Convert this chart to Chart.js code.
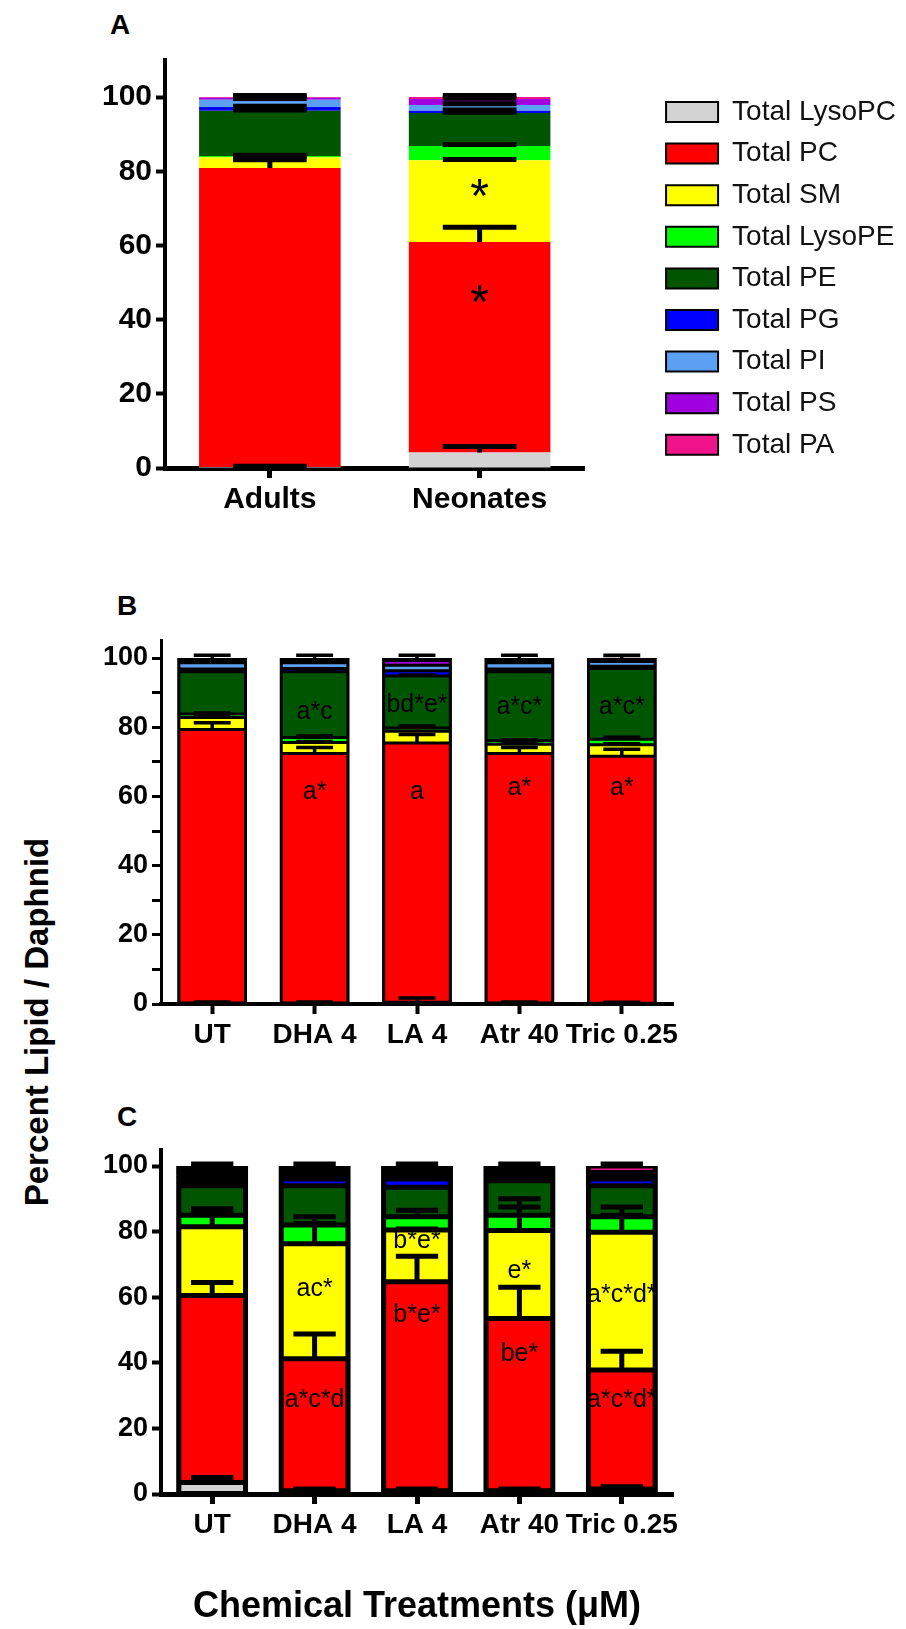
<!DOCTYPE html>
<html>
<head>
<meta charset="utf-8">
<script src="https://cdn.jsdelivr.net/npm/chart.js@4.4.1/dist/chart.umd.min.js"></script>
<style>
  body { margin: 0; background: #fff; }
  #page { position: relative; width: 906px; height: 1629px; overflow: hidden; font-family: 'Liberation Sans', Arial, sans-serif; }
  canvas { position: absolute; left: 0; }
  .letter { position: absolute; font-weight: bold; font-size: 28px; line-height: 28px; color: #000; }
  #ytitle { position: absolute; left: 37px; top: 1022px; transform: translate(-50%, -50%) rotate(-90deg); font-weight: bold; font-size: 33px; white-space: nowrap; color: #000; }
</style>
</head>
<body>
<div id="page">
  <div class="letter" style="left:110px;top:11px">A</div>
  <div class="letter" style="left:117px;top:592px">B</div>
  <div class="letter" style="left:117px;top:1103px">C</div>
  <div id="ytitle">Percent Lipid / Daphnid</div>
  <canvas id="chartA" width="906" height="557" style="top:0"></canvas>
  <canvas id="chartB" width="906" height="470" style="top:600px"></canvas>
  <canvas id="chartC" width="906" height="529" style="top:1100px"></canvas>
</div>
<script>
var FONT = "'Liberation Sans', Arial, sans-serif";

// stacking order, bottom to top
var seriesNames = ["Total LysoPC", "Total PC", "Total SM", "Total LysoPE", "Total PE", "Total PG", "Total PI", "Total PS", "Total PA"];
var seriesColors = ["#d3d3d3", "#ff0000", "#ffff00", "#00ff00", "#005500", "#0000ff", "#5ca0f2", "#a000e0", "#f0148c"];

// Panel A - rows follow seriesNames, columns follow groupsA
var groupsA = ["Adults", "Neonates"];
var valuesA = [
  [0.3, 4.2],
  [80.6, 56.7],
  [2.9, 22.1],
  [0.3, 3.8],
  [12.2, 8.9],
  [1.0, 0.6],
  [2.0, 1.6],
  [0.5, 1.6],
  [0.2, 0.5]
];
var errorsA = [
  [0.2, 1.6],
  [2.2, 4.0],
  [0.3, 0.2],
  [0.2, 0.4],
  [0.2, 0.2],
  [0.2, 0.2],
  [0.3, 0.3],
  [0.2, 0.2],
  [0.4, 0.4]
];
var notesA = [[1, 72.5, "*"], [1, 44, "*"]];

// Panels B and C
var groupsBC = ["UT", "DHA 4", "LA 4", "Atr 40", "Tric 0.25"];
var valuesB = [
  [0.3, 0.3, 0.5, 0.3, 0.2],
  [79.0, 72.1, 74.9, 72.1, 71.4],
  [3.5, 3.2, 3.4, 2.7, 3.3],
  [1.0, 1.4, 1.0, 1.0, 1.6],
  [12.2, 19.0, 15.0, 19.9, 20.5],
  [0.8, 1.0, 1.5, 0.8, 0.6],
  [1.8, 1.6, 1.6, 1.8, 1.4],
  [0.8, 0.8, 1.4, 0.8, 0.6],
  [0.6, 0.6, 0.7, 0.6, 0.4]
];
var errorsB = [
  [0.3, 0.3, 1.2, 0.3, 0.3],
  [2.0, 1.7, 2.5, 1.7, 2.0],
  [0.3, 0.3, 1.5, 0.3, 0.3],
  [0.3, 0.5, 0.5, 0.3, 0.6],
  [0.3, 0.3, 0.3, 0.3, 0.3],
  [0, 0, 0, 0, 0],
  [0, 0.6, 0, 0, 0.6],
  [0, 0, 0, 0, 0],
  [0.8, 0.8, 0.8, 0.8, 0.8]
];
var notesB = [
  [1, 84.4, "a*c"], [1, 61.3, "a*"],
  [2, 86.4, "bd*e*"], [2, 61.3, "a"],
  [3, 85.9, "a*c*"], [3, 62.3, "a*"],
  [4, 85.9, "a*c*"], [4, 62.3, "a*"]
];

var valuesC = [
  [3.5, 1.0, 1.0, 1.0, 1.5],
  [57.0, 40.2, 63.7, 52.5, 36.3],
  [21.0, 35.1, 15.8, 26.8, 42.0],
  [3.5, 5.7, 4.0, 4.7, 4.7],
  [9.0, 12.0, 9.0, 10.5, 9.5],
  [1.5, 2.0, 2.5, 1.2, 2.0],
  [1.5, 1.5, 1.5, 1.3, 1.2],
  [1.5, 1.3, 1.3, 1.2, 0.8],
  [1.5, 1.2, 1.2, 0.8, 2.0]
];
var errorsC = [
  [1.5, 0.5, 0.5, 0.5, 0.7],
  [4.0, 7.6, 7.8, 9.5, 5.7],
  [5.5, 8.2, 0.3, 9.7, 7.7],
  [0.5, 0.5, 2.0, 2.5, 0.5],
  [0, 0, 0, 0, 0],
  [0, 0, 0, 0, 0],
  [0, 0, 0, 0, 0],
  [0, 0, 0, 0, 0],
  [0.6, 0.6, 0.6, 0.6, 0.6]
];
var notesC = [
  [1, 62.5, "ac*"], [1, 28.5, "a*c*d"],
  [2, 77, "b*e*"], [2, 54.5, "b*e*"],
  [3, 68, "e*"], [3, 42.5, "be*"],
  [4, 60.5, "a*c*d*"], [4, 28.5, "a*c*d*"]
];

// black backing under each whole stack so thin segments read as solid outline
var stackBacking = {
  id: 'stackBacking',
  beforeDatasetsDraw: function(chart, args, opts) {
    if (!opts.on) return;
    var ctx = chart.ctx, y = chart.scales.y, sets = chart.data.datasets;
    ctx.save();
    ctx.fillStyle = '#000';
    chart.getDatasetMeta(0).data.forEach(function(bar, j) {
      var total = 0;
      sets.forEach(function(ds) { total += ds.data[j]; });
      var y0 = y.getPixelForValue(0), y1 = y.getPixelForValue(total);
      ctx.fillRect(bar.x - bar.width / 2, y1, bar.width, y0 - y1);
    });
    ctx.restore();
  }
};

// error bars: from top of each segment upward by its error
var errorBars = {
  id: 'errorBars',
  afterDatasetsDraw: function(chart, args, opts) {
    var ctx = chart.ctx, y = chart.scales.y, sets = chart.data.datasets;
    ctx.save();
    ctx.strokeStyle = '#000';
    ctx.lineWidth = opts.width;
    sets.forEach(function(ds, i) {
      chart.getDatasetMeta(i).data.forEach(function(bar, j) {
        var err = ds.errors[j];
        if (!err) return;
        var top = 0;
        for (var k = 0; k <= i; k++) top += sets[k].data[j];
        var y0 = y.getPixelForValue(top), y1 = y.getPixelForValue(top + err);
        var half = bar.width * opts.cap / 2;
        ctx.beginPath();
        ctx.moveTo(bar.x, y0);
        ctx.lineTo(bar.x, y1);
        ctx.moveTo(bar.x - half, y1);
        ctx.lineTo(bar.x + half, y1);
        ctx.stroke();
      });
    });
    ctx.restore();
  }
};

var notes = {
  id: 'notes',
  afterDatasetsDraw: function(chart, args, opts) {
    var ctx = chart.ctx, y = chart.scales.y, bars = chart.getDatasetMeta(0).data;
    ctx.save();
    ctx.fillStyle = '#000';
    ctx.font = opts.size + 'px ' + FONT;
    ctx.textAlign = 'center';
    ctx.textBaseline = 'middle';
    opts.items.forEach(function(n) {
      ctx.fillText(n[2], bars[n[0]].x, y.getPixelForValue(n[1]));
    });
    ctx.restore();
  }
};

// border: [side, topAndBottom]; small segments turn fully black like the original
function makeDatasets(values, errors, border, barPct) {
  return seriesNames.map(function(name, i) {
    return {
      label: name,
      data: values[i],
      errors: errors[i],
      backgroundColor: seriesColors[i],
      borderColor: '#000',
      borderWidth: { left: border[0], right: border[0], top: border[1], bottom: border[1] },
      borderSkipped: false,
      inflateAmount: border[0] ? 0 : 'auto',
      categoryPercentage: 1,
      barPercentage: barPct
    };
  });
}

function yAxis(max, fontSize, lineW, width) {
  return {
    stacked: true, min: 0, max: max,
    border: { display: true, color: '#000', width: lineW },
    grid: { drawOnChartArea: false, drawTicks: true, tickLength: 9, tickWidth: lineW, tickColor: '#000' },
    ticks: {
      stepSize: 10, includeBounds: false, padding: 4, color: '#000',
      font: { family: FONT, size: fontSize, weight: 'bold' },
      callback: function(v) {
        if (v % 10 !== 0) return null;
        if (v % 20 !== 0 || v > 100) return '';
        return String(v);
      }
    },
    afterFit: function(s) { s.width = width; }
  };
}

function xAxis(fontSize, lineW, height, title) {
  return {
    stacked: true,
    border: { display: true, color: '#000', width: lineW },
    grid: { offset: false, drawOnChartArea: false, drawTicks: true, tickLength: 10, tickWidth: lineW, tickColor: '#000' },
    ticks: { padding: 4, color: '#000', maxRotation: 0, autoSkip: false, font: { family: FONT, size: fontSize, weight: 'bold' } },
    title: title || { display: false },
    afterFit: function(s) { s.height = height; }
  };
}

Chart.defaults.font.family = FONT;

new Chart(document.getElementById('chartA'), {
  type: 'bar',
  data: { labels: groupsA, datasets: makeDatasets(valuesA, errorsA, [0, 0], 0.675) },
  options: {
    responsive: false, animation: false,
    layout: { padding: { top: 60, right: 0, left: 0, bottom: 0 } },
    scales: {
      x: xAxis(30, 5, 89),
      y: yAxis(110, 30, 4, 165),
      spacer: {
        type: 'linear', position: 'right', display: true,
        grid: { display: false }, ticks: { display: false }, border: { display: false },
        afterFit: function(s) { s.width = 68; }
      }
    },
    plugins: {
      tooltip: { enabled: false },
      legend: {
        position: 'right',
        align: 'start',
        maxWidth: 320,
        title: { display: true, text: '', padding: 5 },
        labels: {
          boxWidth: 52, boxHeight: 20, padding: 13.6, color: '#111',
          font: { family: FONT, size: 28 },
          generateLabels: function(chart) {
            var items = Chart.defaults.plugins.legend.labels.generateLabels(chart);
            items.forEach(function(it) { it.strokeStyle = '#000'; it.lineWidth = 2; });
            return items;
          }
        }
      },
      stackBacking: { on: false },
      errorBars: { width: 5, cap: 0.52 },
      notes: { items: notesA, size: 48 }
    }
  },
  plugins: [stackBacking, errorBars, notes]
});

new Chart(document.getElementById('chartB'), {
  type: 'bar',
  data: { labels: groupsBC, datasets: makeDatasets(valuesB, errorsB, [3, 1.5], 0.68) },
  options: {
    responsive: false, animation: false,
    layout: { padding: { top: 40.7, right: 233, left: 0, bottom: 0 } },
    scales: {
      x: xAxis(28, 4, 66),
      y: yAxis(105, 27, 3, 161)
    },
    plugins: {
      tooltip: { enabled: false },
      legend: { display: false },
      stackBacking: { on: true },
      errorBars: { width: 3.5, cap: 0.53 },
      notes: { items: notesB, size: 25 }
    }
  },
  plugins: [stackBacking, errorBars, notes]
});

new Chart(document.getElementById('chartC'), {
  type: 'bar',
  data: { labels: groupsBC, datasets: makeDatasets(valuesC, errorsC, [5, 2.5], 0.70) },
  options: {
    responsive: false, animation: false,
    layout: { padding: { top: 49.6, right: 233, left: 0, bottom: 0 } },
    scales: {
      x: xAxis(28, 5, 135, {
        display: true, text: 'Chemical Treatments (\u03bcM)', color: '#000',
        font: { family: FONT, size: 36, weight: 'bold' }, padding: { top: 0, bottom: 0 }
      }),
      y: yAxis(105, 27, 4, 161)
    },
    plugins: {
      tooltip: { enabled: false },
      legend: { display: false },
      stackBacking: { on: true },
      errorBars: { width: 5, cap: 0.59 },
      notes: { items: notesC, size: 25 }
    }
  },
  plugins: [stackBacking, errorBars, notes]
});
</script>
</body>
</html>
